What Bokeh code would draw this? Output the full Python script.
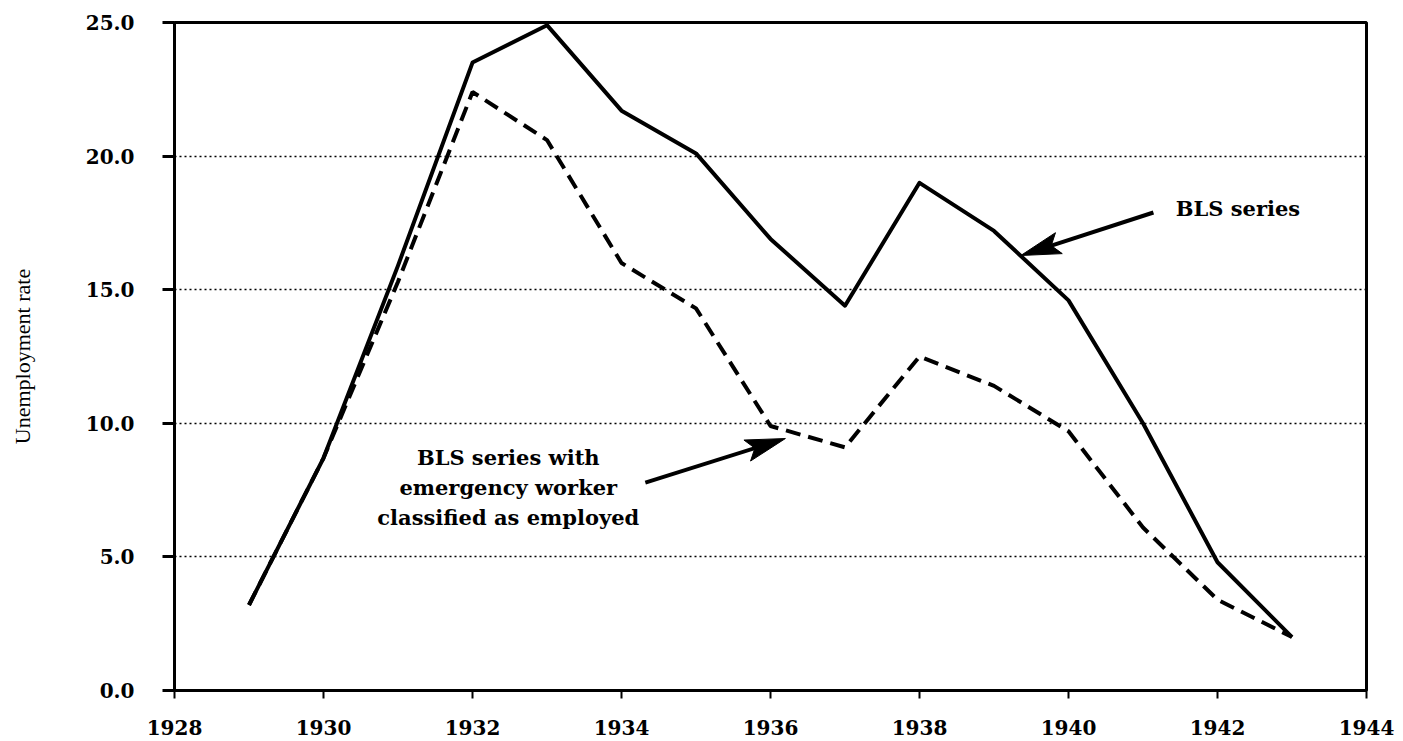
import math
from bokeh.plotting import figure
from bokeh.models import Range1d, FixedTicker, PrintfTickFormatter
from bokeh.embed import file_html
from bokeh.resources import INLINE
from bokeh.core.properties import value

# ---- data ----
years = [1929, 1930, 1931, 1932, 1933, 1934, 1935, 1936, 1937, 1938, 1939, 1940, 1941, 1942, 1943]
bls_series = [3.2, 8.7, 15.9, 23.5, 24.9, 21.7, 20.1, 16.9, 14.4, 19.0, 17.2, 14.6, 10.0, 4.8, 2.0]
bls_emergency_employed = [3.2, 8.7, 15.3, 22.4, 20.6, 16.0, 14.3, 9.9, 9.1, 12.5, 11.4, 9.7, 6.1, 3.4, 2.0]
x_ticks = [1928, 1930, 1932, 1934, 1936, 1938, 1940, 1942, 1944]
y_ticks = [0, 5, 10, 15, 20, 25]
label_bls = "BLS series"
label_emerg = "BLS series with\nemergency worker\nclassified as employed"
y_title = "Unemployment rate"

W, H = 1403, 741
ML, MR, MT, MB = 174, 37, 22, 51
FW, FH = W - ML - MR, H - MT - MB
X0, X1, Y0, Y1 = 1928, 1944, 0, 25
XS = FW / (X1 - X0)
YS = FH / (Y1 - Y0)

p = figure(width=W, height=H, output_backend="svg", toolbar_location=None,
           x_range=Range1d(X0, X1), y_range=Range1d(Y0, Y1),
           min_border_left=ML, min_border_right=MR, min_border_top=MT, min_border_bottom=MB,
           background_fill_color="white", border_fill_color="white")

p.outline_line_color = "black"
p.outline_line_width = 3
p.outline_line_alpha = 1

tick_font = "DejaVu Serif"

p.xaxis.ticker = FixedTicker(ticks=x_ticks)
p.xaxis.major_tick_out = 8
p.xaxis.major_tick_in = 0
p.xaxis.minor_tick_out = 0
p.xaxis.minor_tick_in = 0
p.xaxis.major_tick_line_width = 2
p.xaxis.axis_line_width = 3
p.xaxis.major_label_text_font = tick_font
p.xaxis.major_label_text_font_style = "bold"
p.xaxis.major_label_text_font_size = "20px"
p.xaxis.major_label_text_color = "black"
p.xaxis.major_label_standoff = 21

p.yaxis.ticker = FixedTicker(ticks=y_ticks)
p.yaxis.formatter = PrintfTickFormatter(format="%.1f")
p.yaxis.major_tick_out = 12
p.yaxis.major_tick_in = 0
p.yaxis.minor_tick_out = 0
p.yaxis.minor_tick_in = 0
p.yaxis.major_tick_line_width = 3
p.yaxis.axis_line_width = 3
p.yaxis.major_label_text_font = tick_font
p.yaxis.major_label_text_font_style = "bold"
p.yaxis.major_label_text_font_size = "20px"
p.yaxis.major_label_text_color = "black"
p.yaxis.major_label_standoff = 28
p.yaxis.axis_label = y_title
p.yaxis.axis_label_text_font = "Liberation Serif"
p.yaxis.axis_label_text_font_style = "normal"
p.yaxis.axis_label_text_font_size = "22px"
p.yaxis.axis_label_text_color = "black"
p.yaxis.axis_label_standoff = 48

p.xgrid.visible = False
p.ygrid.ticker = FixedTicker(ticks=[5, 10, 15, 20])
p.ygrid.grid_line_color = "black"
p.ygrid.grid_line_dash = "2 3"
p.ygrid.grid_line_width = 1.5

p.line(years, bls_emergency_employed, line_color="black", line_width=4, line_dash="15 8")
p.line(years, bls_series, line_color="black", line_width=4, line_join="round")


def arrow(x0, y0, x1, y1, head_len=40, head_half=11):
    dx = (x1 - x0) * XS
    dy = (y1 - y0) * YS
    L = math.hypot(dx, dy)
    ux, uy = dx / L, dy / L
    bx, by = -head_len * ux, -head_len * uy
    nx, ny = -uy * head_half, ux * head_half
    p.line([x0, x1 + 0.5 * bx / XS], [y0, y1 + 0.5 * by / YS], line_color="black", line_width=4)
    p.patch([x1, x1 + (bx + nx) / XS, x1 + 0.8 * bx / XS, x1 + (bx - nx) / XS],
            [y1, y1 + (by + ny) / YS, y1 + 0.8 * by / YS, y1 + (by - ny) / YS],
            fill_color="black", line_color="black", line_width=1)


arrow(1941.14, 17.89, 1939.36, 16.28)
arrow(1934.32, 7.78, 1936.20, 9.43)

p.text(x=[1941.44], y=[18.04], text=[label_bls], text_font=value("DejaVu Serif"),
       text_font_style="bold", text_font_size="21px", text_align="left",
       text_baseline="middle", text_color="black")
p.text(x=[1932.48], y=[7.60], text=[label_emerg], text_font=value("DejaVu Serif"),
       text_font_style="bold", text_font_size="21px", text_align="center",
       text_baseline="middle", text_color="black", text_line_height=1.2)

open("out.html", "w").write(file_html(p, INLINE))
